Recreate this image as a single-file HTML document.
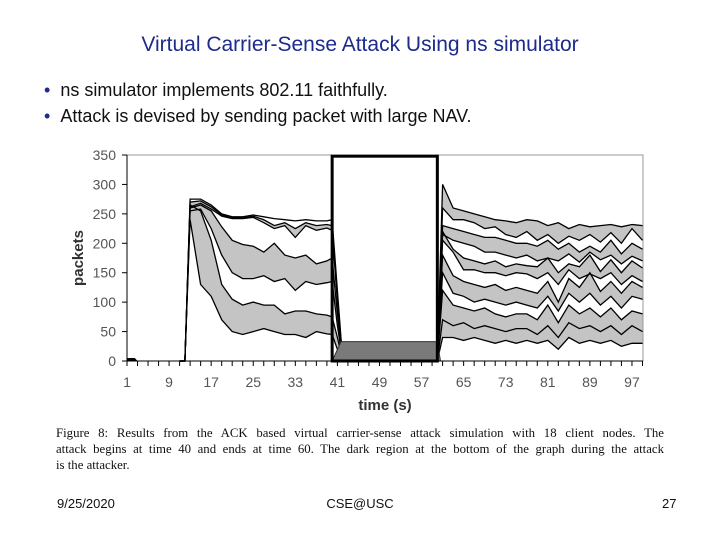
<!DOCTYPE html>
<html><head><meta charset="utf-8"><style>
body{margin:0;background:#fff;}
#slide{position:relative;width:720px;height:540px;overflow:hidden;font-family:"Liberation Sans",sans-serif;}
.t{position:absolute;white-space:nowrap;}
.cl{width:608px;text-align:justify;text-align-last:justify;white-space:nowrap;height:16px;}
</style></head><body>
<div id="slide">
<div class="t" style="left:0;width:720px;text-align:center;top:33px;font-size:21px;color:#1c2b8c;">Virtual Carrier-Sense Attack Using ns simulator</div>
<div class="t" style="left:44px;top:80px;font-size:18px;color:#111;"><span style="color:#1c2b8c">•</span>&nbsp;&nbsp;ns simulator implements 802.11 faithfully.</div>
<div class="t" style="left:44px;top:106px;font-size:18px;color:#111;"><span style="color:#1c2b8c">•</span>&nbsp;&nbsp;Attack is devised by sending packet with large NAV.</div>
<svg id="chart" width="720" height="420" style="position:absolute;left:0;top:0" font-family="Liberation Sans, sans-serif"></svg>
<div class="t" style="left:56px;top:425px;font-family:'Liberation Serif',serif;font-size:12.8px;line-height:16px;color:#111;">
<div class="cl">Figure 8: Results from the ACK based virtual carrier-sense attack simulation with 18 client nodes. The</div>
<div class="cl">attack begins at time 40 and ends at time 60. The dark region at the bottom of the graph during the attack</div>
<div style="height:16px">is the attacker.</div>
</div>
<div class="t" style="left:57px;top:496px;font-size:13px;color:#111;">9/25/2020</div>
<div class="t" style="left:0;width:720px;text-align:center;top:496px;font-size:13px;color:#111;">CSE@USC</div>
<div class="t" style="left:662px;top:496px;font-size:13px;color:#111;">27</div>
</div>
<script>
const yTicks=[0,50,100,150,200,250,300,350];
const xTicks=[1,9,17,25,33,41,49,57,65,73,81,89,97];
const T1=[11,12,13,15,17,19,21,23,25,27,29,31,33,35,37,39,40,41,42];
const p1a=[0,0,275,275,265,250,245,245,248,245,242,240,238,240,238,238,240,120,0];
const p1b=[0,0,270,272,262,248,243,243,246,240,230,235,225,235,230,232,230,110,0];
const p1c=[0,0,262,268,258,246,242,242,244,235,225,230,210,230,222,226,222,100,0];
const p1d=[0,0,260,265,255,228,205,198,195,185,200,180,175,180,165,170,175,80,0];
const p1e=[0,0,255,258,225,180,150,140,140,145,135,140,120,135,130,133,135,60,0];
const p1f=[0,0,265,255,205,130,105,95,100,95,95,80,85,85,80,78,75,40,0];
const p1g=[0,0,240,130,110,70,50,45,50,55,50,45,45,40,50,46,45,20,0];
const T2=[60,61,63,65,67,69,71,73,75,77,79,81,83,85,87,89,91,93,95,97,99];
const q=[
[0,300,260,255,250,245,240,238,235,240,238,230,235,225,232,228,230,232,228,232,230],
[0,260,240,240,235,225,228,215,210,220,205,215,200,212,205,215,202,218,200,225,205],
[0,230,225,220,215,210,210,205,200,200,195,205,190,200,185,195,185,205,182,200,190],
[0,215,205,200,195,185,185,180,175,180,170,175,170,182,168,185,172,180,165,178,170],
[0,220,190,175,170,165,170,160,165,162,160,175,150,165,160,180,152,172,150,170,158],
[0,205,185,155,155,150,150,145,150,148,140,150,130,155,140,148,140,150,130,145,135],
[0,180,145,135,130,125,130,120,125,120,115,135,100,140,125,150,118,135,115,135,125],
[0,150,115,110,100,105,100,95,100,95,90,110,85,115,100,115,95,110,90,110,105],
[0,120,95,90,85,90,80,75,80,80,70,95,65,95,80,90,75,90,70,85,80],
[0,70,60,65,55,60,55,50,55,55,45,60,40,65,55,60,50,60,45,60,50],
[0,40,40,35,40,35,30,35,30,35,30,35,20,40,30,35,30,35,25,30,30]];
const attackT=[40,41.7,60,60.6];
const attackV=[0,33,33,0];
const ns="http://www.w3.org/2000/svg";
const svg=document.getElementById('chart');
const X=t=>127+(t-1)*5.26;
const Y=v=>361-v*(206/350);
function el(tag,a,p){const e=document.createElementNS(ns,tag);for(const k in a)e.setAttribute(k,a[k]);(p||svg).appendChild(e);return e;}
const frame=el('rect',{x:127,y:155,width:516,height:206,fill:'none',stroke:'#999','stroke-width':1});


const pts=(T,V)=>T.map((t,i)=>X(t).toFixed(1)+','+Y(V[i]).toFixed(1));
function band(T,A,B,name){
  const p=el('polygon',{points:pts(T,A).concat(pts(T,B).reverse()).join(' '),fill:'#c4c4c4',stroke:'none'});
  
  
}
function line(T,V,name){
  const p=el('polyline',{points:pts(T,V).join(' '),fill:'none',stroke:'#000','stroke-width':1.3});
  
  
}
band(T1,p1b,p1c,'band-pre-1');band(T1,p1d,p1e,'band-pre-2');band(T1,p1f,p1g,'band-pre-3');
for(let i=0;i+1<q.length;i+=2)band(T2,q[i],q[i+1],'band-post-'+i);
band(T2,q[9],q[10],'band-post-bottom');
[p1a,p1b,p1c,p1d,p1e,p1f,p1g].forEach((s,i)=>line(T1,s,'series-pre-'+i));
q.forEach((s,i)=>line(T2,s,'series-post-'+i));
const att=el('polygon',{points:pts(attackT,attackV).join(' '),fill:'#7a7a7a',stroke:'#333'});


const box=el('rect',{x:X(40),y:Y(348),width:X(60)-X(40),height:Y(0)-Y(348),fill:'none',stroke:'#000','stroke-width':3});


const blip=el('polygon',{points:[X(1)+','+Y(0),X(1)+','+Y(5),X(2.5)+','+Y(5),X(3)+','+Y(0)].join(' '),fill:'#000'});


const ax=el('line',{x1:127,y1:361,x2:643,y2:361,stroke:'#000','stroke-width':1});


const ay=el('line',{x1:127,y1:155,x2:127,y2:361,stroke:'#000','stroke-width':1});


for(let t=1;t<=99;t+=2){el('line',{x1:X(t),y1:361,x2:X(t),y2:366,stroke:'#000'});}
yTicks.forEach(v=>{
  el('line',{x1:122,y1:Y(v),x2:127,y2:Y(v),stroke:'#000'});
  const tx=el('text',{x:116,y:Y(v)+5,'text-anchor':'end','font-size':14,fill:'#555'});
  tx.textContent=v;
  
  
});
xTicks.forEach(v=>{
  const tx=el('text',{x:X(v),y:387,'text-anchor':'middle','font-size':14,fill:'#555'});
  tx.textContent=v;
  
  
});
const xt=el('text',{x:385,y:410,'text-anchor':'middle','font-size':15,'font-weight':'bold',fill:'#333'});
xt.textContent='time (s)';


const yt=el('text',{x:83,y:258,'text-anchor':'middle','font-size':15,'font-weight':'bold',fill:'#333',transform:'rotate(-90 83 258)'});
yt.textContent='packets';


</script>
</body></html>
